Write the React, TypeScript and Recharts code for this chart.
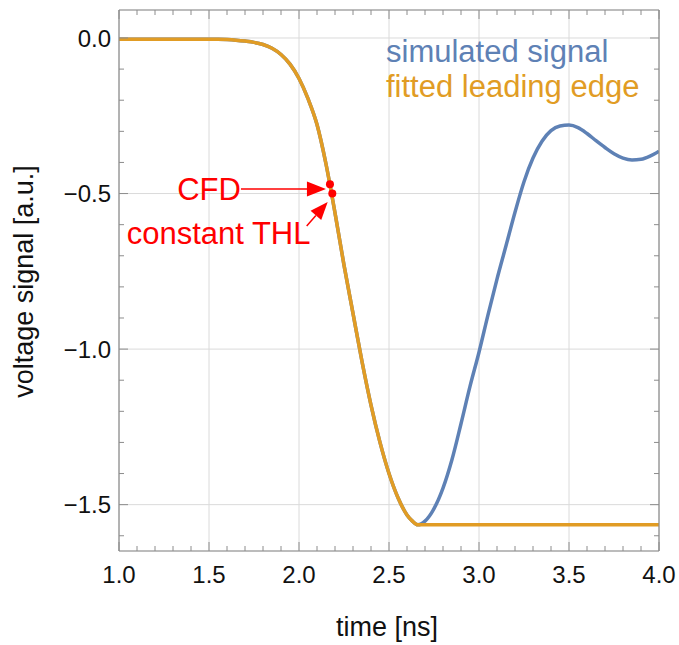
import { LineChart, Line, XAxis, YAxis, CartesianGrid, Legend, ReferenceDot } from "recharts";

const FONT = "'Liberation Sans', Arial, Helvetica, sans-serif";
const FRAME = "#8c8c8c";
const GRID = "#dadada";
const RED = "#ff0000";

// time axis [ns]
const time = [
  1.0, 1.05, 1.1, 1.15, 1.2, 1.25, 1.3, 1.35, 1.4, 1.45, 1.5, 1.55, 1.6, 1.65, 1.7, 1.75,
  1.8, 1.85, 1.9, 1.95, 2.0, 2.05, 2.1, 2.15, 2.2, 2.25, 2.3, 2.35, 2.4, 2.45, 2.5, 2.55,
  2.6, 2.63, 2.66, 2.7, 2.75, 2.8, 2.85, 2.9, 2.95, 3.0, 3.05, 3.1, 3.15, 3.2, 3.25, 3.3,
  3.35, 3.4, 3.45, 3.5, 3.55, 3.6, 3.65, 3.7, 3.75, 3.8, 3.85, 3.9, 3.95, 4.0,
];

const simulated = [
  -0.004, -0.004, -0.004, -0.004, -0.004, -0.004, -0.004, -0.004, -0.004, -0.004, -0.004, -0.004,
  -0.005, -0.007, -0.01, -0.014, -0.021, -0.033, -0.053, -0.084, -0.13, -0.195, -0.278, -0.405,
  -0.562, -0.73, -0.885, -1.04, -1.18, -1.3, -1.4, -1.478, -1.533, -1.553, -1.565, -1.553,
  -1.513, -1.447, -1.355, -1.24, -1.12, -1.01, -0.89, -0.775, -0.668, -0.56, -0.462, -0.386,
  -0.332, -0.298, -0.283, -0.28, -0.288, -0.307, -0.33, -0.352, -0.372, -0.386, -0.392, -0.39,
  -0.38, -0.364,
];

const fitted = [
  -0.004, -0.004, -0.004, -0.004, -0.004, -0.004, -0.004, -0.004, -0.004, -0.004, -0.004, -0.004,
  -0.005, -0.007, -0.01, -0.014, -0.021, -0.033, -0.053, -0.084, -0.13, -0.195, -0.278, -0.405,
  -0.562, -0.73, -0.885, -1.04, -1.18, -1.3, -1.4, -1.478, -1.533, -1.553, -1.565, -1.565,
  -1.565, -1.565, -1.565, -1.565, -1.565, -1.565, -1.565, -1.565, -1.565, -1.565, -1.565, -1.565,
  -1.565, -1.565, -1.565, -1.565, -1.565, -1.565, -1.565, -1.565, -1.565, -1.565, -1.565, -1.565,
  -1.565, -1.565,
];

const legendOrder = ["simulated signal", "fitted leading edge"];

const xMajorTicks = [1, 1.5, 2, 2.5, 3, 3.5, 4];
const xMinorTicks = [
  1.1, 1.2, 1.3, 1.4, 1.6, 1.7, 1.8, 1.9, 2.1, 2.2, 2.3, 2.4, 2.6, 2.7, 2.8, 2.9, 3.1, 3.2, 3.3,
  3.4, 3.6, 3.7, 3.8, 3.9,
];
const yMajorTicks = [-1.5, -1, -0.5, 0];
const yMinorTicks = [-1.6, -1.4, -1.3, -1.2, -1.1, -0.9, -0.8, -0.7, -0.6, -0.4, -0.3, -0.2, -0.1];

const cfdPoint = { time: 2.172, value: -0.47 };
const thlPoint = { time: 2.185, value: -0.5 };

const X_DOMAIN = [1, 4];
const Y_DOMAIN = [-1.649, 0.09];

const data = time.map((t, i) => ({ time: t, simulated: simulated[i], fitted: fitted[i] }));
const xFrameTicks = [...xMajorTicks, ...xMinorTicks].sort((a, b) => a - b);
const yFrameTicks = [...yMajorTicks, ...yMinorTicks].sort((a, b) => a - b);

const fmt = (v: number) => v.toFixed(1).replace("-", "\u2212");

const LegendContent = ({ payload }: any) => {
  const items = [...(payload || [])].sort(
    (a: any, b: any) => legendOrder.indexOf(a.value) - legendOrder.indexOf(b.value)
  );
  return (
    <div style={{ fontFamily: FONT, fontSize: 31, lineHeight: "35px", margin: 0, padding: 0 }}>
      {items.map((p: any) => (
        <div key={p.value} style={{ color: p.color, whiteSpace: "nowrap" }}>
          {p.value}
        </div>
      ))}
    </div>
  );
};

const CfdMarker = ({ cx, cy }: any) => (
  <g>
    <line x1={cx - 89} y1={cy + 4.7} x2={cx - 22} y2={cy + 4.7} stroke={RED} strokeWidth={1.5} />
    <polygon
      points={`${cx - 4},${cy + 4.7} ${cx - 23},${cy - 2.8} ${cx - 23},${cy + 12.2}`}
      fill={RED}
    />
    <text x={cx - 89} y={cy + 15.7} textAnchor="end" fontSize={31} fontFamily={FONT} fill={RED}>
      CFD
    </text>
    <circle cx={cx} cy={cy} r={4} fill={RED} />
  </g>
);

const ThlMarker = ({ cx, cy }: any) => (
  <g>
    <line x1={cx - 25.6} y1={cy + 32.4} x2={cx - 16.4} y2={cy + 21.9} stroke={RED} strokeWidth={1.5} />
    <polygon
      points={`${cx - 4.6},${cy + 8.4} ${cx - 11.1},${cy + 26.5} ${cx - 21.7},${cy + 17.3}`}
      fill={RED}
    />
    <text x={cx - 21.8} y={cy + 50.7} textAnchor="end" fontSize={31} fontFamily={FONT} fill={RED}>
      constant THL
    </text>
    <circle cx={cx} cy={cy} r={4} fill={RED} />
  </g>
);

const tickStyle = { fontSize: 24, fill: "#111", fontFamily: FONT };

// inward frame ticks, drawn from the tick anchor (which sits on the frame edge)
const isMajor = (v: number, majors: number[]) => majors.some((m) => Math.abs(m - v) < 1e-6);
const frameTick = (dx: number, dy: number, majors: number[]) => (props: any) => {
  const { x, y, payload } = props;
  const len = isMajor(payload.value, majors) ? 9 : 5;
  return <line x1={x} y1={y} x2={x + dx * len} y2={y + dy * len} stroke={FRAME} strokeWidth={1} />;
};

const frameAxisProps = {
  mirror: true,
  type: "number" as const,
  allowDataOverflow: true,
  interval: 0 as const,
  tickSize: 0,
  tickMargin: 0,
  tickLine: false,
};

export default function App() {
  return (
    <div style={{ position: "fixed", left: 0, top: 0, background: "#fff" }}>
      <LineChart width={679} height={645} data={data} margin={{ top: 10, right: 20, bottom: 0, left: 0 }}>
        <CartesianGrid stroke={GRID} strokeWidth={1} />
        <XAxis
          dataKey="time"
          type="number"
          domain={X_DOMAIN}
          allowDataOverflow
          ticks={xMajorTicks}
          interval={0}
          tickFormatter={fmt}
          tick={tickStyle}
          tickLine={false}
          tickSize={0}
          tickMargin={15}
          axisLine={{ stroke: FRAME, strokeWidth: 1.2 }}
          height={94}
          label={{
            content: ({ viewBox }: any) => (
              <text
                x={(viewBox?.x ?? 119) + (viewBox?.width ?? 540) / 2 - 2}
                y={636}
                textAnchor="middle"
                fontSize={27}
                fontFamily={FONT}
                fill="#111"
              >
                time [ns]
              </text>
            ),
          }}
        />
        <YAxis
          type="number"
          domain={Y_DOMAIN}
          allowDataOverflow
          ticks={yMajorTicks}
          interval={0}
          tickFormatter={fmt}
          tick={tickStyle}
          tickLine={false}
          tickSize={0}
          tickMargin={8}
          axisLine={{ stroke: FRAME, strokeWidth: 1.2 }}
          width={119}
          label={{
            content: ({ viewBox }: any) => {
              const cy = (viewBox?.y ?? 10) + (viewBox?.height ?? 541) / 2 + 1;
              return (
                <text
                  x={33}
                  y={cy}
                  transform={`rotate(-90, 33, ${cy})`}
                  textAnchor="middle"
                  fontSize={27}
                  fontFamily={FONT}
                  fill="#111"
                >
                  voltage signal [a.u.]
                </text>
              );
            },
          }}
        />
        <XAxis
          {...frameAxisProps}
          xAxisId="bottomFrame"
          dataKey="time"
          orientation="bottom"
          domain={X_DOMAIN}
          ticks={xFrameTicks}
          tick={frameTick(0, -1, xMajorTicks)}
          axisLine={false}
        />
        <XAxis
          {...frameAxisProps}
          xAxisId="topFrame"
          dataKey="time"
          orientation="top"
          domain={X_DOMAIN}
          ticks={xFrameTicks}
          tick={frameTick(0, 1, xMajorTicks)}
          axisLine={{ stroke: FRAME, strokeWidth: 1.2 }}
        />
        <YAxis
          {...frameAxisProps}
          yAxisId="leftFrame"
          dataKey="simulated"
          orientation="left"
          domain={Y_DOMAIN}
          ticks={yFrameTicks}
          tick={frameTick(1, 0, yMajorTicks)}
          axisLine={false}
        />
        <YAxis
          {...frameAxisProps}
          yAxisId="rightFrame"
          dataKey="simulated"
          orientation="right"
          domain={Y_DOMAIN}
          ticks={yFrameTicks}
          tick={frameTick(-1, 0, yMajorTicks)}
          axisLine={{ stroke: FRAME, strokeWidth: 1.2 }}
        />
        <Legend
          layout="horizontal"
          verticalAlign="middle"
          align="center"
          content={<LegendContent />}
          wrapperStyle={{ left: 386, top: 34, width: "auto", height: "auto" }}
        />
        <Line
          name="simulated signal"
          dataKey="simulated"
          type="monotone"
          stroke="#5e81b5"
          strokeWidth={3.5}
          dot={false}
          activeDot={false}
          isAnimationActive={false}
        />
        <Line
          name="fitted leading edge"
          dataKey="fitted"
          type="monotone"
          stroke="#e19c24"
          strokeWidth={3.5}
          dot={false}
          activeDot={false}
          isAnimationActive={false}
        />
        <ReferenceDot x={cfdPoint.time} y={cfdPoint.value} r={4} shape={CfdMarker} />
        <ReferenceDot x={thlPoint.time} y={thlPoint.value} r={4} shape={ThlMarker} />
      </LineChart>
    </div>
  );
}
